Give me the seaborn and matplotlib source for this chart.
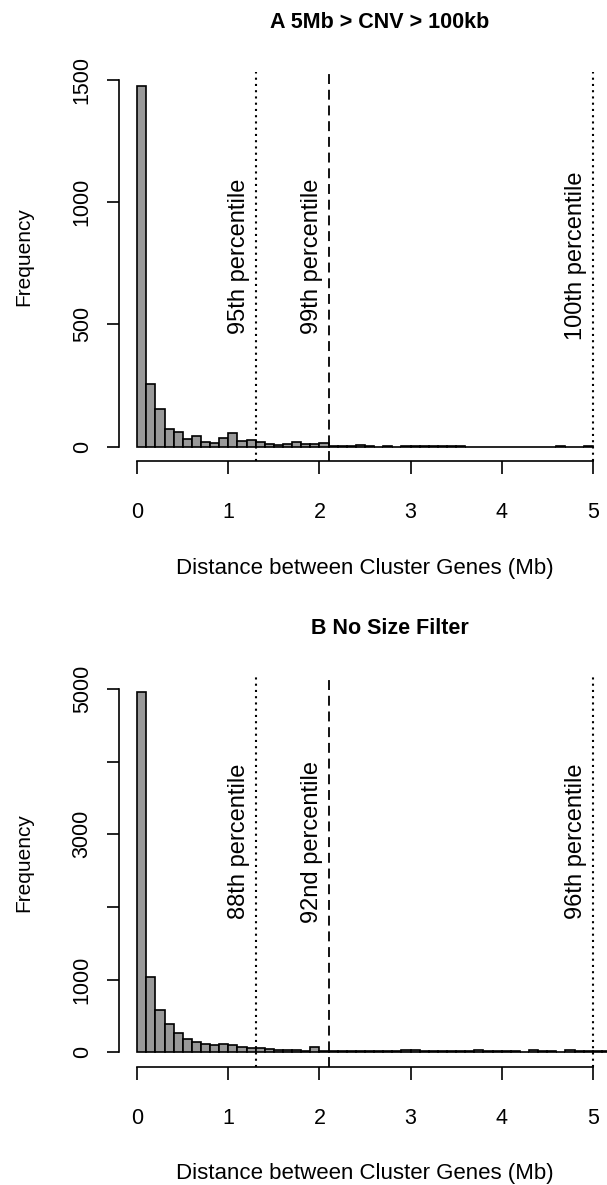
import matplotlib
matplotlib.use("Agg")
import matplotlib.pyplot as plt
import numpy as np
import pandas as pd
import seaborn as sns

# histogram counts, 0.1 Mb bins starting at 0
bin_width = 0.1
counts_a = [1475, 257, 153, 73, 60, 30, 45, 20, 16, 37,
            56, 22, 26, 19, 12, 8, 9, 20, 11, 11,
            14, 4, 3, 1, 8, 1, 0, 3, 0, 2,
            2, 2, 1, 3, 3, 2, 0, 0, 0, 0,
            0, 0, 0, 0, 0, 0, 4, 0, 0, 1]
counts_b = [4963, 1032, 588, 385, 261, 188, 138, 110, 96, 114,
            96, 78, 60, 55, 41, 28, 32, 32, 23, 69,
            23, 18, 15, 14, 12, 13, 12, 14, 13, 28,
            25, 14, 12, 13, 11, 14, 13, 27, 12, 11,
            13, 12, 10, 26, 11, 12, 10, 25, 12, 11,
            13, 12, 11, 10, 11]

cuts_a = [1.3, 2.1, 5.0]
cut_labels_a = ["95th percentile", "99th percentile", "100th percentile"]
cuts_b = [1.3, 2.1, 5.0]
cut_labels_b = ["88th percentile", "92nd percentile", "96th percentile"]
cut_styles = ["dotted", "dashed", "dotted"]

yticks_a = [0, 500, 1000, 1500]
yticklabels_a = ["0", "500", "1000", "1500"]
yticks_b = [0, 1000, 2000, 3000, 4000, 5000]
yticklabels_b = ["0", "1000", "", "3000", "", "5000"]
xticks = [0, 1, 2, 3, 4, 5]

title_a = "A 5Mb > CNV > 100kb"
title_b = "B No Size Filter"
xlabel = "Distance between Cluster Genes (Mb)"
ylabel = "Frequency"

sns.set_style("ticks")
plt.rcParams["font.family"] = ["Liberation Sans", "DejaVu Sans"]
plt.rcParams.update({"text.color": "black", "axes.labelcolor": "black",
                     "xtick.color": "black", "ytick.color": "black",
                     "axes.edgecolor": "black"})

W, H = 607, 1185
fig = plt.figure(figsize=(W / 100, H / 100), dpi=100)


def add_axes_px(left, top, right, bottom):
    return fig.add_axes([left / W, 1 - bottom / H, (right - left) / W, (bottom - top) / H])


def draw_panel(ax, counts, cuts, cut_labels, yticks, yticklabels, title, label_y, title_x):
    n = len(counts)
    df = pd.DataFrame({"dist": (np.arange(n) + 0.5) * bin_width, "count": counts})
    sns.histplot(data=df, x="dist", weights="count", binwidth=bin_width,
                 binrange=(0, n * bin_width), color="#999999",
                 edgecolor="black", linewidth=1.2, alpha=1, ax=ax)
    top = max(counts)
    ax.set_xlim(-0.2, 5.2)
    ax.set_ylim(-0.04 * top, 1.04 * top)

    for cut, lab, style in zip(cuts, cut_labels, cut_styles):
        if style == "dotted":
            ax.axvline(cut, color="black", lw=1.5, ls=(0, (1.0, 2.0)))
        else:
            ax.axvline(cut, color="black", lw=1.3, ls=(0, (5.5, 3.2)))
        ax.text(cut - 0.18, label_y, lab, rotation=90, ha="center", va="center",
                fontsize=17)

    sns.despine(ax=ax)
    ax.spines["left"].set_bounds(0, yticks[-1])
    ax.spines["bottom"].set_bounds(0, 5)
    for sp in ("left", "bottom"):
        ax.spines[sp].set_linewidth(1.2)

    ax.set_xticks(xticks)
    ax.set_xticklabels([str(t) for t in xticks], fontsize=15.5)
    ax.set_yticks(yticks)
    ax.set_yticklabels(yticklabels, rotation=90, va="center", ha="center", fontsize=15.5)
    ax.tick_params(axis="x", length=9.5, width=1.2, pad=20)
    ax.tick_params(axis="y", length=9, width=1.2, pad=17.5)

    ax.set_xlabel(xlabel, fontsize=16)
    ax.xaxis.set_label_coords(0.5, -0.275)
    ax.xaxis.label.set_verticalalignment("center")
    ax.set_ylabel(ylabel, fontsize=15)
    ax.yaxis.set_label_coords(-0.194, 0.525)
    ax.yaxis.label.set_verticalalignment("center")

    ax.text(title_x, 1.125, title, transform=ax.transAxes, ha="center", va="center",
            fontsize=15.5, fontweight="bold")


ax_a = add_axes_px(119, 71.6, 611, 461.1)
draw_panel(ax_a, counts_a, cuts_a, cut_labels_a, yticks_a, yticklabels_a, title_a, 780, 0.53)

ax_b = add_axes_px(119, 677.3, 611, 1066.7)
draw_panel(ax_b, counts_b, cuts_b, cut_labels_b, yticks_b, yticklabels_b, title_b, 2900, 0.55)

fig.savefig("out.png", dpi=100)
